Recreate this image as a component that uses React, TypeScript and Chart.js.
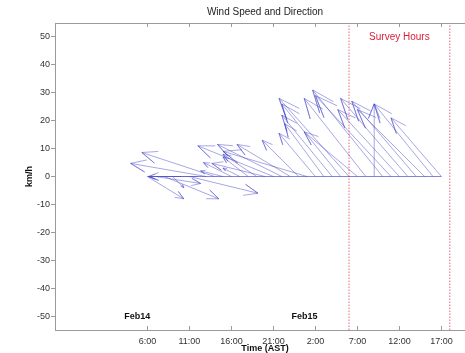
import React, { useEffect, useRef } from "react";
import { Chart, registerables } from "chart.js";
Chart.register(...registerables);

// Hours since Feb14 00:00 (AST)
const hours = [6, 7, 8, 9, 10, 11, 12, 13, 14, 15, 16, 17, 18, 19, 20, 21, 22, 23, 24, 25, 26, 27, 28, 29, 30, 31, 32, 33, 34, 35, 36, 37, 38, 39, 40, 41];
// Wind vector components (km/h)
const uKmh = [13, 16, 19.5, 4, -11.5, 24.5, -17.5, -27, -26, -8, -10, -6, -9, -12, -19, -27, -23, -19, -13, -30, -13, -14, -18, -21, -25, -19, -22, 0, -25, -27, -22, -24, -23, -24, -21, -18];
const vKmh = [-8, -2.5, -8, -4, 0, -6, 0, 4.7, 8.6, 2, 5, 3, 7, 8, 4.7, 11, 11.5, 11.5, 13, 9, 15.5, 19, 22, 26, 28, 16, 28, 26, 31, 29, 24, 28, 27, 24, 26, 21];

const tickHours = [6, 11, 16, 21, 26, 31, 36, 41];
const tickLabels = ["6:00", "11:00", "16:00", "21:00", "2:00", "7:00", "12:00", "17:00"];
const yTicks = [-50, -40, -30, -20, -10, 0, 10, 20, 30, 40, 50];
const surveyHours = [30, 42];
const dayLabels = ["Feb14", "Feb15"];
const dayLabelHours = [4.8, 24.7];

const X_MIN = -5;
const X_MAX = 45;
const Y_MIN = -55;
const Y_MAX = 55;
const HOURS_PER_KMH = 1 / 3;

const FONT = "Arial, 'Liberation Sans', sans-serif";

export default function App() {
  const ref = useRef<HTMLCanvasElement | null>(null);

  useEffect(() => {
    const canvas = ref.current;
    if (!canvas) return;

    const arrowShape = [
      [0, 0],
      [1, 0],
      [0.8, 0.08],
      [1, 0],
      [0.8, -0.08],
    ];
    const stickData: any[] = [];
    hours.forEach((t, i) => {
      const u = uKmh[i];
      const v = vKmh[i];
      arrowShape.forEach(([a, b]) => {
        const re = a * u - b * v;
        const im = a * v + b * u;
        stickData.push({ x: t + re * HOURS_PER_KMH, y: im });
      });
      stickData.push({ x: t, y: null });
    });
    const baseline = [
      { x: hours[0], y: 0 },
      { x: hours[hours.length - 1], y: 0 },
    ];

    const surveyDatasets = surveyHours.map((h) => ({
      type: "line" as const,
      data: [
        { x: h, y: Y_MIN },
        { x: h, y: Y_MAX },
      ],
      borderColor: "rgba(215,40,70,0.7)",
      borderWidth: 1,
      borderDash: [1.5, 1.5],
      pointRadius: 0,
    }));

    const decor = {
      id: "decor",
      afterDraw(chart: any) {
        const ctx = chart.ctx;
        const xs = chart.scales.x;
        const ys = chart.scales.y;
        const area = chart.chartArea;
        ctx.save();
        ctx.strokeStyle = "#9a9a9a";
        ctx.lineWidth = 1;
        ctx.beginPath();
        ctx.moveTo(area.left, Math.round(area.top) + 0.5);
        ctx.lineTo(area.right, Math.round(area.top) + 0.5);
        ctx.stroke();
        tickHours.forEach((h) => {
          const px = Math.round(xs.getPixelForValue(h)) + 0.5;
          ctx.beginPath();
          ctx.moveTo(px, area.bottom);
          ctx.lineTo(px, area.bottom - 4);
          ctx.moveTo(px, area.top);
          ctx.lineTo(px, area.top + 4);
          ctx.stroke();
        });
        ctx.fillStyle = "#222";
        ctx.font = `10px ${FONT}`;
        ctx.textAlign = "center";
        ctx.textBaseline = "middle";
        ctx.fillText("Wind Speed and Direction", (area.left + area.right) / 2, 12);
        ctx.font = `bold 9px ${FONT}`;
        ctx.fillStyle = "#111";
        ctx.fillText("Time (AST)", (area.left + area.right) / 2, 348.5);
        ctx.save();
        ctx.translate(30, ys.getPixelForValue(0));
        ctx.rotate(-Math.PI / 2);
        ctx.fillText("km/h", 0, 0);
        ctx.restore();
        ctx.font = `bold 9px ${FONT}`;
        dayLabels.forEach((lab, i) => {
          ctx.fillText(lab, xs.getPixelForValue(dayLabelHours[i]), ys.getPixelForValue(-50));
        });
        ctx.fillStyle = "#d8203c";
        ctx.font = `10px ${FONT}`;
        ctx.fillText("Survey Hours", xs.getPixelForValue((surveyHours[0] + surveyHours[1]) / 2), ys.getPixelForValue(50));
        ctx.restore();
      },
    };

    const chart = new Chart(canvas, {
      type: "line",
      data: {
        datasets: [
          ...surveyDatasets,
          {
            data: baseline,
            borderColor: "rgba(70,70,200,0.75)",
            borderWidth: 0.9,
            pointRadius: 0,
          },
          {
            data: stickData,
            borderColor: "rgba(70,70,200,0.6)",
            borderWidth: 0.8,
            pointRadius: 0,
            spanGaps: false,
          },
        ] as any,
      },
      options: {
        animation: false,
        responsive: false,
        devicePixelRatio: 1,
        layout: { padding: { top: 23, right: 5, left: 0, bottom: 0 } },
        plugins: {
          legend: { display: false },
          tooltip: { enabled: false },
          title: { display: false },
        },
        scales: {
          x: {
            type: "linear",
            min: X_MIN,
            max: X_MAX,
            position: "bottom",
            grid: { display: false, drawTicks: false, tickLength: 0 },
            border: { display: true, color: "#9a9a9a", width: 1 },
            afterBuildTicks: (scale: any) => {
              scale.ticks = tickHours.map((v) => ({ value: v }));
            },
            afterFit: (scale: any) => {
              scale.height = 23;
            },
            ticks: {
              autoSkip: false,
              maxRotation: 0,
              padding: 6,
              color: "#333",
              font: { family: FONT, size: 9 },
              callback: (_v: any, i: number) => tickLabels[i],
            },
          },
          y: {
            type: "linear",
            min: Y_MIN,
            max: Y_MAX,
            grid: {
              display: true,
              drawOnChartArea: false,
              drawTicks: true,
              tickLength: 4,
              color: "#9a9a9a",
            },
            border: { display: true, color: "#9a9a9a", width: 1 },
            afterBuildTicks: (scale: any) => {
              scale.ticks = yTicks.map((v) => ({ value: v }));
            },
            afterFit: (scale: any) => {
              scale.width = 55;
            },
            ticks: {
              padding: 1,
              color: "#333",
              font: { family: FONT, size: 9 },
            },
          },
        },
      },
      plugins: [decor],
    });

    return () => chart.destroy();
  }, []);

  return (
    <div
      style={{
        position: "absolute",
        left: 0,
        top: 0,
        width: 465,
        height: 353,
        overflow: "hidden",
        background: "#fff",
      }}
    >
      <canvas ref={ref} width={480} height={353} style={{ display: "block" }} />
    </div>
  );
}
